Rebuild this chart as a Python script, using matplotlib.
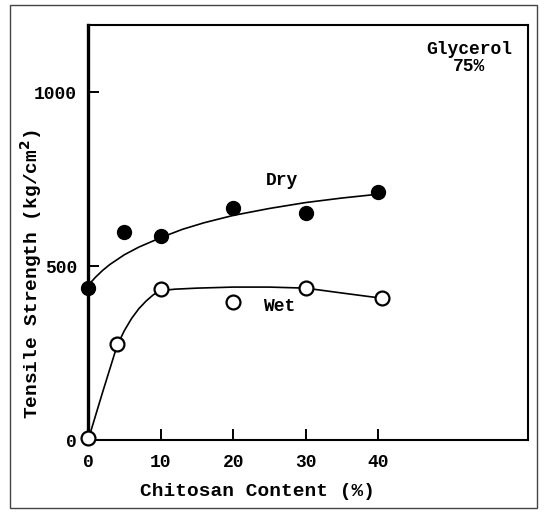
import numpy as np
import matplotlib
matplotlib.use('Agg')
import matplotlib.pyplot as plt
from matplotlib.patches import Rectangle

# measured points
dry_x = [0, 5, 10, 20, 30, 40]
dry_y = [437, 598, 586, 667, 652, 713]
wet_x = [0, 4, 10, 20, 30, 40.5]
wet_y = [5, 276, 434, 397, 437, 408]

# hand drawn trend curves
dry_curve_x = [0, 1, 2, 3, 5, 7, 10, 13, 16, 20, 25, 30, 35, 40]
dry_curve_y = [445, 468, 488, 505, 533, 555, 582, 606, 625, 646, 666, 683, 696, 707]
wet_curve_x = [0, 2, 4, 5, 6, 7, 8, 9, 10, 12, 15, 20, 25, 30, 35, 40.5]
wet_curve_y = [0, 138, 272, 315, 350, 378, 400, 418, 430, 434, 437, 440, 440, 437, 423, 408]

xticks = [0, 10, 20, 30, 40]
yticks = [0, 500, 1000]

plt.rcParams['font.family'] = ['Liberation Mono', 'DejaVu Sans']
plt.rcParams['font.weight'] = 'bold'

fig = plt.figure(figsize=(5.44, 5.13), dpi=100)
ax = fig.add_axes([0.162, 0.142, 0.809, 0.809])

ax.plot(dry_curve_x, dry_curve_y, color='black', lw=1.2)
ax.plot(wet_curve_x, wet_curve_y, color='black', lw=1.2)
ax.plot(dry_x, dry_y, 'o', color='black', ms=10, zorder=3, clip_on=False)
ax.plot(wet_x, wet_y, 'o', mfc='white', mec='black', mew=1.6, ms=10, zorder=3,
        clip_on=False)

ax.text(26.8, 733, 'Dry', fontsize=13, fontweight='bold', ha='center')
ax.text(26.3, 370, 'Wet', fontsize=13, fontweight='bold', ha='center')
ax.text(52.5, 1062, 'Glycerol\n75%', fontsize=13, fontweight='bold',
        ha='center', linespacing=0.95)

ax.set_xlim(0, 60.7)
ax.set_ylim(0, 1193)
ax.set_xticks(xticks)
ax.set_yticks(yticks)
ax.tick_params(axis='both', direction='in', length=8, width=1.4,
               labelsize=13)
ax.tick_params(axis='x', pad=10)
ax.tick_params(axis='y', pad=8)
for lab in ax.get_xticklabels() + ax.get_yticklabels():
    lab.set_fontweight('bold')

ax.set_xlabel('Chitosan Content (%)', fontsize=14, fontweight='bold')
ax.set_ylabel('Tensile Strength (kg/cm$^2$)', fontsize=14, fontweight='bold')
ax.xaxis.set_label_coords(0.385, -0.104)
ax.yaxis.set_label_coords(-0.10, 0.40)

ax.spines['left'].set_linewidth(2.4)
for s in ['bottom', 'top', 'right']:
    ax.spines[s].set_linewidth(1.5)

# outer frame of the scan
fig.patches.append(Rectangle((0.018, 0.01), 0.969, 0.98, transform=fig.transFigure,
                             fill=False, lw=1.0, ec='#444444'))

fig.savefig('out.png', dpi=100)
